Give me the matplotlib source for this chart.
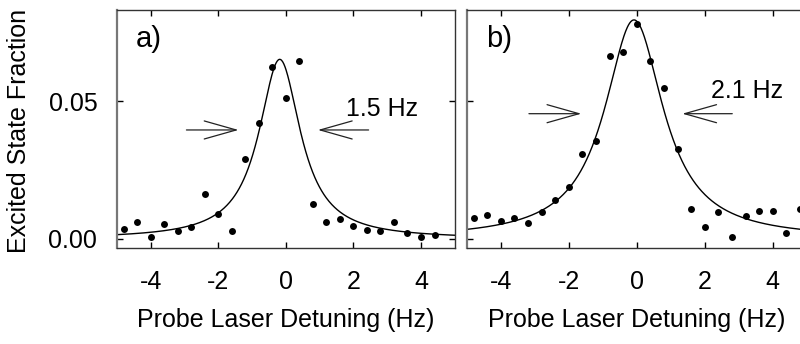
import numpy as np
import matplotlib
matplotlib.use("Agg")
import matplotlib.pyplot as plt

plt.rcParams['font.family'] = ['Liberation Sans', 'DejaVu Sans']
plt.rcParams['axes.unicode_minus'] = False

# detuning grid of the measured points (Hz)
detuning_a = [-4.8, -4.4, -4.0, -3.6, -3.2, -2.8, -2.4, -2.0, -1.6, -1.2, -0.8, -0.4,
              0.0, 0.4, 0.8, 1.2, 1.6, 2.0, 2.4, 2.8, 3.2, 3.6, 4.0, 4.4]
fraction_a = [0.0037, 0.0063, 0.0008, 0.0054, 0.0030, 0.0045, 0.0162, 0.0089, 0.0027,
              0.0291, 0.0419, 0.0624, 0.0511, 0.0645, 0.0127, 0.0060, 0.0071, 0.0047,
              0.0034, 0.0027, 0.0060, 0.0021, 0.0008, 0.0014]

detuning_b = [-4.8, -4.4, -4.0, -3.6, -3.2, -2.8, -2.4, -2.0, -1.6, -1.2, -0.8, -0.4,
              0.0, 0.4, 0.8, 1.2, 1.6, 2.0, 2.4, 2.8, 3.2, 3.6, 4.0, 4.4, 4.8]
fraction_b = [0.0075, 0.0087, 0.0065, 0.0075, 0.0058, 0.0096, 0.0142, 0.0187, 0.0308,
              0.0354, 0.0663, 0.0678, 0.0778, 0.0645, 0.0548, 0.0327, 0.0108, 0.0045,
              0.0096, 0.0007, 0.0082, 0.0101, 0.0101, 0.0020, 0.0110]

# Lorentzian fit parameters: centre, peak height, FWHM
fit_a = (-0.18, 0.0651, 1.5)
fit_b = (-0.08, 0.0794, 2.1)

panel_labels = ["a)", "b)"]
width_labels = ["1.5 Hz", "2.1 Hz"]
xticks = [-4, -2, 0, 2, 4]
yticks = [0.00, 0.05]


def lorentz(x, x0, amp, fwhm):
    hw = fwhm / 2.0
    return amp / (1.0 + ((x - x0) / hw) ** 2)


fig = plt.figure(figsize=(8, 3.44), dpi=100)
ax_a = fig.add_axes([0.146, 0.279, 0.4225, 0.692])
ax_b = fig.add_axes([0.5834, 0.279, 0.425, 0.692])

xs = np.linspace(-5, 5, 600)

panels = [
    (ax_a, detuning_a, fraction_a, fit_a, panel_labels[0], width_labels[0],
     0.0395, (-2.94, -1.40), (2.45, 0.95), (1.78, 0.0446)),
    (ax_b, detuning_b, fraction_b, fit_b, panel_labels[1], width_labels[1],
     0.0454, (-3.17, -1.63), (2.81, 1.34), (2.18, 0.0512)),
]

for ax, xd, yd, fit, lab, wlab, arr_y, larr, rarr, tpos in panels:
    ax.plot(xs, lorentz(xs, *fit), color="black", lw=1.0, zorder=2)
    ax.plot(xd, yd, "o", color="black", ms=5, mec="none", zorder=3)

    ax.set_xlim(-5, 5)
    ax.set_ylim(-0.0033, 0.0830)
    ax.set_xticks(xticks)
    ax.set_yticks(yticks)
    ax.tick_params(direction="in", length=4, width=1, top=True, right=True,
                   labelsize=18, colors="black")
    ax.tick_params(axis="x", pad=16)
    ax.tick_params(axis="y", pad=14)
    for side in ["top", "bottom", "right"]:
        ax.spines[side].set_color("#333333")
        ax.spines[side].set_linewidth(1.0)
    ax.spines["left"].set_color("#777777")
    ax.spines["left"].set_linewidth(1.6)

    ax.text(-4.44, 0.0697, lab, fontsize=21, ha="left", va="baseline")
    ax.text(tpos[0], tpos[1], wlab, fontsize=18, ha="left", va="baseline")

    arrow = dict(arrowstyle="->,head_length=23,head_width=6.5", color="#222222",
                 lw=0.9, mutation_scale=1, shrinkA=0, shrinkB=0)
    ax.annotate("", xy=(larr[1], arr_y), xytext=(larr[0], arr_y), arrowprops=arrow)
    ax.annotate("", xy=(rarr[1], arr_y), xytext=(rarr[0], arr_y), arrowprops=arrow)

    ax.set_xlabel("Probe Laser Detuning (Hz)", fontsize=18, labelpad=10)

ax_a.set_yticklabels(["0.00", "0.05"])
ax_b.set_yticklabels([])

fig.text(19 / 800, 1 - 131 / 344, "Excited State Fraction", rotation=90,
         fontsize=18, ha="center", va="center")

fig.savefig("out.png", dpi=100)
